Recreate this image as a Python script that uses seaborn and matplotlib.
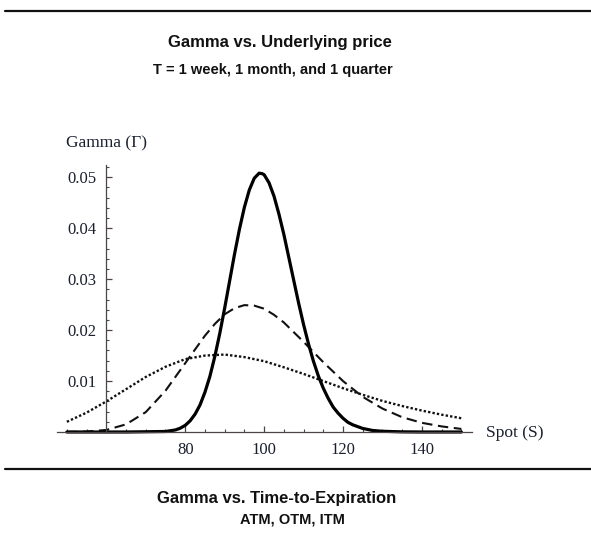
import numpy as np
import pandas as pd
import matplotlib
matplotlib.use("Agg")
import matplotlib.pyplot as plt
from matplotlib.lines import Line2D
from matplotlib.ticker import MultipleLocator
import seaborn as sns

# spot grid and gamma values
spot_week = [50, 55, 60, 65, 70, 75, 77.5, 78.75, 80, 81.25, 82.5, 83.75, 85, 86.25,
             87.5, 88.75, 90, 91.25, 92.5, 93.75, 95, 96.25, 97.5, 98.75, 99.5,
             100, 101.25, 102.5, 103.75, 105, 106.25, 107.5, 108.75, 110, 111.25,
             112.5, 113.75, 115, 116.25, 117.5, 118.75, 120, 121.25, 122.5, 125,
             127.5, 130, 135, 140, 145, 150]
gamma_week = [0.0, 0.0, 0.0, 0.0, 0.00005, 0.0001, 0.0004, 0.00075, 0.0013, 0.0022,
              0.0035, 0.0053, 0.0078, 0.0109, 0.0148, 0.0193, 0.0243, 0.0296,
              0.0349, 0.0398, 0.0441, 0.0475, 0.0498, 0.0508, 0.0507, 0.0505,
              0.0489, 0.0463, 0.0428, 0.0388, 0.0343, 0.0298, 0.0253, 0.0211,
              0.0173, 0.0139, 0.0110, 0.0086, 0.0066, 0.0049, 0.0037, 0.0027,
              0.0019, 0.0014, 0.0007, 0.0003, 0.00014, 0.00003, 0.0, 0.0, 0.0]

spot_month = [50, 55, 60, 65, 70, 75, 80, 85, 87.5, 90, 92.5, 95, 97.5, 100, 102.5,
              105, 110, 115, 120, 125, 130, 135, 140, 145, 150]
gamma_month = [0.00001, 0.00008, 0.0004, 0.0015, 0.0039, 0.0081, 0.0135, 0.0189,
               0.0212, 0.0231, 0.0243, 0.0249, 0.0248, 0.0242, 0.0230, 0.0215,
               0.0177, 0.0137, 0.0100, 0.0069, 0.0046, 0.0029, 0.0018, 0.0011,
               0.0006]

spot_quarter = [50, 55, 60, 65, 70, 75, 80, 85, 90, 95, 100, 105, 110, 115, 120,
                125, 130, 135, 140, 145, 150]
gamma_quarter = [0.0020, 0.0038, 0.0060, 0.0084, 0.0108, 0.0128, 0.0143, 0.0150,
                 0.0152, 0.0147, 0.0139, 0.0127, 0.0114, 0.0100, 0.0086, 0.0073,
                 0.0061, 0.0051, 0.0042, 0.0034, 0.0027]

x_ticks = [80, 100, 120, 140]
y_ticks = [0.01, 0.02, 0.03, 0.04, 0.05]

sns.set_style("white")
serif = ["Liberation Serif", "DejaVu Serif"]
sans = ["Liberation Sans", "DejaVu Sans"]
axis_col = "#4d4545"
text_col = "#1a1f2e"

fig = plt.figure(figsize=(5.91, 5.35), dpi=100)
ax = fig.add_axes([57 / 591, 1 - 432 / 535, 415 / 591, 267 / 535])

week = pd.DataFrame({"spot": spot_week, "gamma": gamma_week})
month = pd.DataFrame({"spot": spot_month, "gamma": gamma_month})
quarter = pd.DataFrame({"spot": spot_quarter, "gamma": gamma_quarter})

sns.lineplot(data=quarter, x="spot", y="gamma", ax=ax, color="#111111", lw=1.7,
             linestyle=(0, (1, 0.9)), clip_on=False)
sns.lineplot(data=month, x="spot", y="gamma", ax=ax, color="#111111", lw=1.5,
             linestyle=(0, (5, 2.7)), clip_on=False)
sns.lineplot(data=week, x="spot", y="gamma", ax=ax, color="black", lw=2.3,
             clip_on=False)

ax.set_xlim(47.5, 152.7)
ax.set_ylim(0, 0.0524)
for side in ["top", "right"]:
    ax.spines[side].set_visible(False)
ax.spines["left"].set_position(("data", 60))
ax.spines["bottom"].set_position(("data", 0))
for side in ["left", "bottom"]:
    ax.spines[side].set_color(axis_col)
    ax.spines[side].set_linewidth(0.9)

ax.set_xticks(x_ticks)
ax.set_yticks(y_ticks)
ax.set_yticklabels([f"{v:.2f}" for v in y_ticks])
ax.xaxis.set_minor_locator(MultipleLocator(5))
ax.yaxis.set_minor_locator(MultipleLocator(0.002))
ax.tick_params(which="both", bottom=True, left=True, direction="in")
ax.tick_params(which="major", length=4, width=0.9, color=axis_col,
               labelsize=12, labelcolor=text_col)
ax.tick_params(which="minor", length=2.5, width=0.8, color=axis_col)
ax.tick_params(axis="x", pad=7)
ax.tick_params(axis="y", pad=7)
for lbl in ax.get_xticklabels() + ax.get_yticklabels():
    lbl.set_family(serif)
ax.set_xlabel("")
ax.set_ylabel("")

fig.text(486 / 591, 1 - 433 / 535, "Spot (S)", ha="left", va="center",
         fontsize=12.5, family=serif, color=text_col)
fig.text(66 / 591, 1 - 143 / 535, "Gamma (\u0393)", ha="left", va="center",
         fontsize=12.5, family=serif, color=text_col)

fig.text(280 / 591, 1 - 43 / 535, "Gamma vs. Underlying price", ha="center",
         va="center", fontsize=12, fontweight="bold", family=sans, color="#111111")
fig.text(273 / 591, 1 - 70 / 535, "T = 1 week, 1 month, and 1 quarter", ha="center",
         va="center", fontsize=10.5, fontweight="bold", family=sans, color="#111111")
fig.text(277 / 591, 1 - 499 / 535, "Gamma vs. Time-to-Expiration", ha="center",
         va="center", fontsize=12, fontweight="bold", family=sans, color="#111111")
fig.text(292 / 591, 1 - 519 / 535, "ATM, OTM, ITM", ha="center",
         va="center", fontsize=10.5, fontweight="bold", family=sans, color="#111111")

fig.add_artist(Line2D([5 / 591, 1], [1 - 11 / 535, 1 - 11 / 535], color="#111111", lw=1.6))
fig.add_artist(Line2D([5 / 591, 1], [1 - 469 / 535, 1 - 469 / 535], color="#111111", lw=1.6))

fig.savefig("out.png", dpi=100)
